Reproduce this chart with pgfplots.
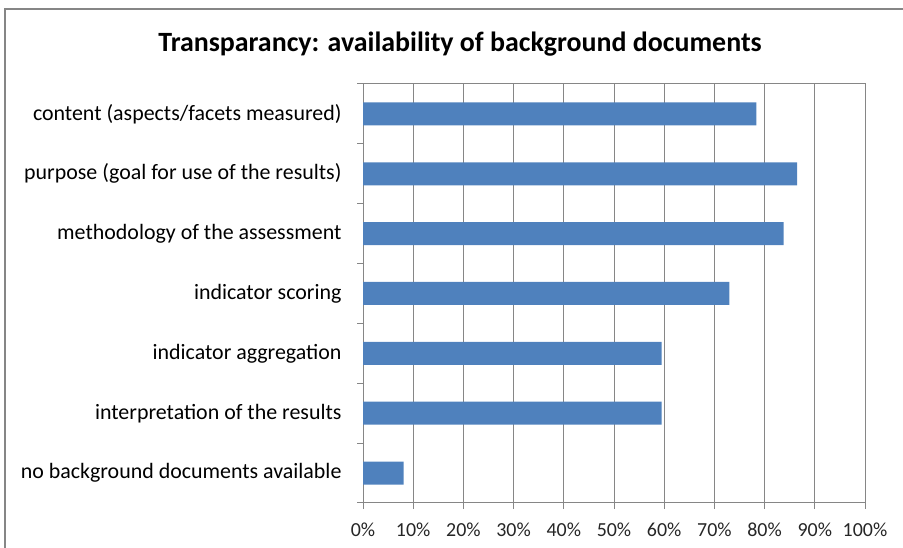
\documentclass[border=0pt]{standalone}
\usepackage{pgfplots}
\pgfplotsset{compat=1.18}
\usepackage{fontspec}
\setmainfont{Carlito}
\definecolor{barblue}{HTML}{4F81BD}
\definecolor{gridgray}{HTML}{868686}

\begin{document}
\begin{tikzpicture}[x=1bp,y=1bp]
\useasboundingbox (0,0) rectangle (903,548);
% chart area border (cut off on the right and bottom)
\draw[gridgray, line width=1.2bp] (5,-20) -- (5,539) -- (940,539);
\node[font=\fontsize{28}{32}\selectfont\bfseries] at (460,504)
  {Transparancy: availability of background documents};
\begin{axis}[
  at={(363bp,45bp)}, anchor=south west,
  scale only axis, width=502bp, height=419bp,
  xbar, bar width=23bp,
  xmin=0, xmax=100, ymin=-0.5, ymax=6.5,
  xtick={0,10,...,100},
  xticklabels={0\%,10\%,20\%,30\%,40\%,50\%,60\%,70\%,80\%,90\%,100\%},
  xmajorgrids, grid style={gridgray, line width=1bp},
  axis line style={gridgray, line width=1bp},
  every tick/.style={gridgray, line width=1bp},
  tick align=outside, major tick length=6bp,
  xtick pos=bottom, ytick pos=left,
  ytick={-0.5,0.5,...,6.5}, yticklabels={},
  extra y ticks={0,1,2,3,4,5,6},
  extra y tick labels={no background documents available,
    interpretation of the results, indicator aggregation,
    indicator scoring, methodology of the assessment,
    purpose (goal for use of the results),
    content (aspects/facets measured)},
  extra y tick style={major tick length=0pt, grid=none},
  yticklabel style={font=\fontsize{22}{26}\selectfont, anchor=east, xshift=-18bp},
  xticklabel style={font=\fontsize{20}{24}\selectfont, text=black!85, yshift=-10bp},
]
\addplot[fill=barblue, draw=none] coordinates {
  (8.11,0) (59.46,1) (59.46,2) (72.97,3) (83.78,4) (86.49,5) (78.38,6)
};
\end{axis}
\end{tikzpicture}
\end{document}
